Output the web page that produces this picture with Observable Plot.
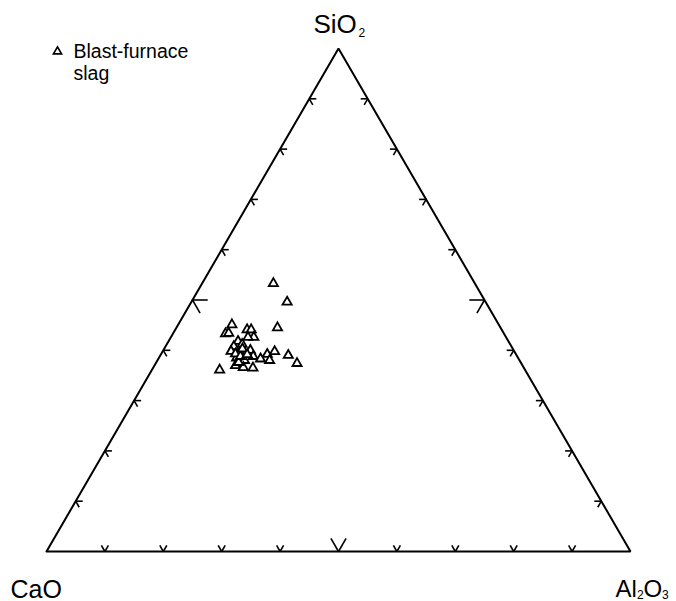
<!DOCTYPE html>
<html>
<head>
<meta charset="utf-8">
<script src="https://cdn.jsdelivr.net/npm/d3@7"></script>
<script src="https://cdn.jsdelivr.net/npm/@observablehq/plot@0.6"></script>
<style>
  html, body { margin: 0; padding: 0; background: #fff; }
  svg { display: block; }
</style>
</head>
<body>
<div id="chart"></div>
<script>
// Blast-furnace slag compositions (wt%, normalised)
const CaO   = [34.5, 34.0, 45.7, 38.2, 43.6, 42.9, 43.2, 47.7, 47.1, 44.2, 46.3, 47.6, 45.9, 45.1, 48.5, 47.1, 41.1, 42.6, 39.1, 45.2, 44.2, 42.8, 48.2, 47.1, 38.4, 49.2, 48.0, 46.4, 52.3, 48.3, 48.0, 47.4, 46.3, 46.1];
const SiO2  = [53.3, 49.6, 45.1, 44.5, 44.1, 44.1, 42.6, 43.3, 43.4, 42.6, 41.8, 40.8, 41.2, 40.0, 39.8, 39.6, 39.8, 39.2, 39.0, 38.8, 38.3, 38.0, 38.5, 38.0, 37.4, 37.0, 36.6, 36.5, 36.1, 37.6, 39.3, 38.8, 40.3, 39.2];
const Al2O3 = [12.2, 16.4,  9.2, 17.3, 12.3, 13.0, 14.2,  9.0,  9.5, 13.2, 11.9, 11.7, 12.9, 14.9, 11.7, 13.3, 19.2, 18.2, 21.9, 16.0, 17.5, 19.2, 13.3, 14.9, 24.2, 13.9, 15.4, 17.1, 11.6, 14.1, 12.7, 13.8, 13.4, 14.8];

const tickFractions = [0.1, 0.2, 0.3, 0.4, 0.5, 0.6, 0.7, 0.8, 0.9];
const legendLabel = ["Blast-furnace", "slag"];

// ternary -> cartesian (CaO bottom-left, Al2O3 bottom-right, SiO2 top)
const tern = (c, s, a) => { const t = c + s + a; return [ (a + s / 2) / t, s / t ]; };

const samples = CaO.map((c, i) => {
  const [x, y] = tern(c, SiO2[i], Al2O3[i]);
  return {x, y};
});

const outline = [[1,0,0],[0,0,1],[0,1,0],[1,0,0]].map(([c,s,a]) => { const [x,y] = tern(c,s,a); return {x,y}; });

// tick segments: two short strokes (chevron) at each 10%
const segs = [];
const seg = (p, q) => { const [x1,y1] = tern(...p); const [x2,y2] = tern(...q); segs.push({x1,y1,x2,y2}); };
for (const k of tickFractions) {
  const d = Math.abs(k - 0.5) < 1e-9 ? 0.026 : 0.012;
  // left edge (Al2O3 = 0)
  let c = 1 - k, s = k, a = 0;
  seg([c,s,a],[c-d,s,a+d]); seg([c,s,a],[c,s-d,a+d]);
  // right edge (CaO = 0)
  c = 0; s = k; a = 1 - k;
  seg([c,s,a],[c+d,s,a-d]); seg([c,s,a],[c+d,s-d,a]);
  // bottom edge (SiO2 = 0)
  c = 1 - k; s = 0; a = k;
  seg([c,s,a],[c-d,s+d,a]); seg([c,s,a],[c,s+d,a-d]);
}

const font = "'Liberation Sans', Arial, Helvetica, sans-serif";
const T = (txt, o) => Plot.text([txt], {fill: "#000", textAnchor: "start", ...o});

const chart = Plot.plot({
  width: 676,
  height: 601,
  marginLeft: 46,
  marginRight: 46,
  marginTop: 48,
  marginBottom: 50,
  x: {domain: [0, 1], axis: null},
  y: {domain: [0, 1], axis: null},
  style: {fontFamily: font, background: "#fff"},
  marks: [
    Plot.line(outline, {x: "x", y: "y", stroke: "#000", strokeWidth: 2, strokeLinejoin: "miter", clip: false}),
    Plot.link(segs, {x1: "x1", y1: "y1", x2: "x2", y2: "y2", stroke: "#000", strokeWidth: 1.6}),
    Plot.dot(samples, {x: "x", y: "y", symbol: "triangle", r: 3.4, stroke: "#000", fill: "#fff", strokeWidth: 1.8}),
    // vertex labels
    T("SiO", {x: 0.5, y: 1, dx: -25, dy: -24, fontSize: 26}),
    T("2",   {x: 0.5, y: 1, dx: 20, dy: -15, fontSize: 12}),
    T("CaO", {x: 0, y: 0, dx: -36, dy: 38, fontSize: 25}),
    T("Al",  {x: 1, y: 0, dx: -15, dy: 38, fontSize: 24}),
    T("2",   {x: 1, y: 0, dx: 6.5, dy: 44, fontSize: 12}),
    T("O",   {x: 1, y: 0, dx: 13, dy: 38, fontSize: 24}),
    T("3",   {x: 1, y: 0, dx: 31.5, dy: 44, fontSize: 12}),
    // legend
    Plot.dot([0], {x: 0, y: 1, dx: 11, dy: 3, symbol: "triangle", r: 3, stroke: "#000", fill: "#fff", strokeWidth: 1.7}),
    T(legendLabel[0], {x: 0, y: 1, dx: 27, dy: 3, fontSize: 19.5}),
    T(legendLabel[1], {x: 0, y: 1, dx: 27, dy: 25, fontSize: 19.5})
  ]
});

document.getElementById("chart").appendChild(chart);
</script>
</body>
</html>
